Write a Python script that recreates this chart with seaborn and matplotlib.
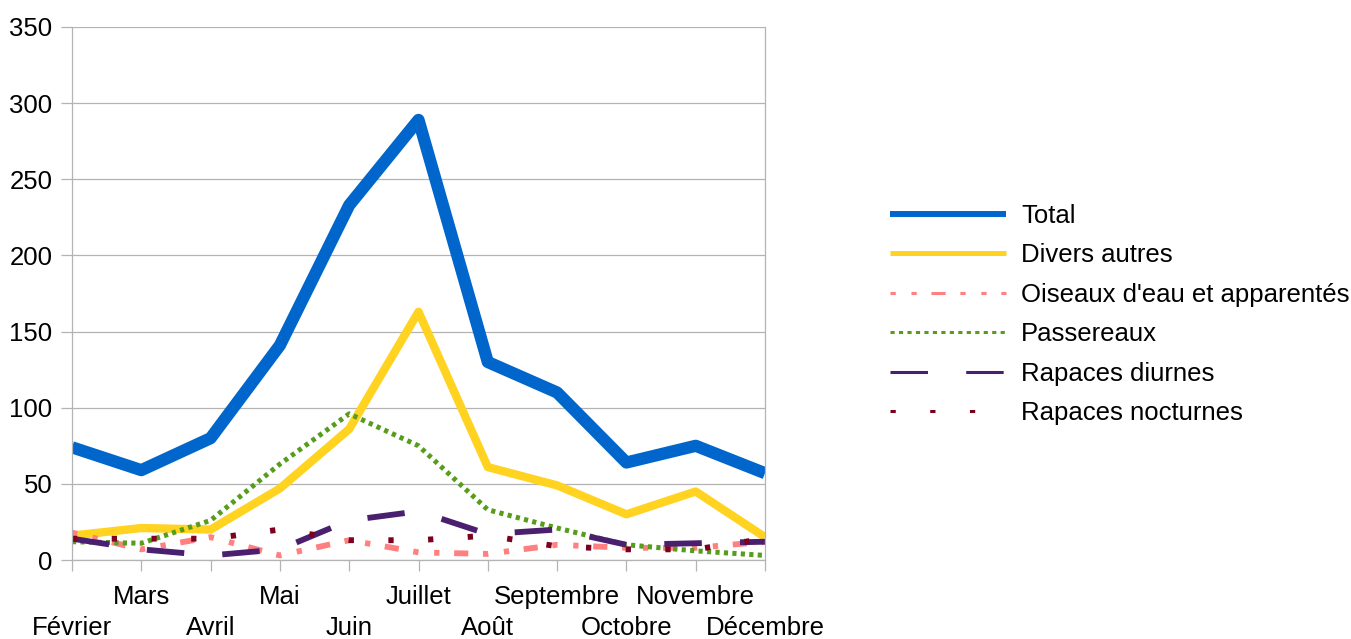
import pandas as pd
import matplotlib.pyplot as plt
import seaborn as sns

# Monthly counts
months = ["Février", "Mars", "Avril", "Mai", "Juin", "Juillet", "Août",
          "Septembre", "Octobre", "Novembre", "Décembre"]
total = [74, 59, 80, 141, 233, 289, 130, 110, 64, 75, 57]
divers_autres = [16, 21, 20, 47, 86, 163, 61, 49, 30, 45, 15]
oiseaux_eau = [18, 7, 15, 3, 13, 5, 4, 10, 8, 8, 12]
passereaux = [12, 11, 26, 63, 96, 75, 33, 21, 10, 6, 3]
rapaces_diurnes = [14, 7, 3, 7, 26, 32, 17, 20, 10, 11, 12]
rapaces_nocturnes = [14, 14, 14, 20, 13, 13, 16, 9, 7, 7, 14]
y_ticks = [0, 50, 100, 150, 200, 250, 300, 350]

sns.set_theme(style="whitegrid")
plt.rcParams['font.family'] = ['Liberation Sans', 'DejaVu Sans']
plt.rcParams['lines.scale_dashes'] = False
plt.rcParams['text.color'] = 'black'

grid_col = '#b3b3b3'
fs = 18.5

fig = plt.figure(figsize=(13.51, 6.39), dpi=100)
ax = fig.add_axes([72 / 1351, 1 - 560 / 639, 693 / 1351, 533 / 639])

# name, values, colour, plot width, legend width, line style
series = [
    ("Total", total, "#0066cc", 8.8, 4.3, "-"),
    ("Divers autres", divers_autres, "#ffd320", 6.0, 3.6, "-"),
    ("Oiseaux d'eau et apparentés", oiseaux_eau, "#ff8080", 4.2, 2.2,
     (0, (3.8, 11.3, 3.8, 10.6, 10.2, 10.6))),
    ("Passereaux", passereaux, "#579d1c", 3.6, 2.2, (0, (3.0, 3.1))),
    ("Rapaces diurnes", rapaces_diurnes, "#4b1f6f", 4.2, 2.2, (0, (27, 27.5))),
    ("Rapaces nocturnes", rapaces_nocturnes, "#7e0021", 4.2, 2.2, (0, (3.8, 24.8))),
]

x = list(range(len(months)))
for name, vals, color, lw, _, ls in series:
    df = pd.DataFrame({"x": x, "y": vals})
    sns.lineplot(data=df, x="x", y="y", ax=ax, color=color, linewidth=lw,
                 linestyle=ls, label=name, solid_joinstyle='round',
                 solid_capstyle='butt', dash_capstyle='butt', legend=False)

ax.set_xlim(0, len(months) - 1)
ax.set_ylim(0, 350)
ax.set_yticks(y_ticks)
ax.set_yticklabels([str(v) for v in y_ticks], fontsize=fs, color='black')
ax.set_xticks(x)
ax.set_xticklabels([("\n" + m) if i % 2 == 0 else m for i, m in enumerate(months)],
                   fontsize=fs, color='black', linespacing=1.38)
ax.set_xlabel("")
ax.set_ylabel("")

ax.grid(axis='y', color=grid_col, linewidth=0.9)
ax.grid(axis='x', visible=False)
ax.tick_params(axis='both', which='major', direction='out', length=8,
               width=0.9, color=grid_col, pad=6)
ax.tick_params(axis='x', bottom=True, pad=10)
ax.tick_params(axis='y', left=True)
for side in ['left', 'right', 'bottom']:
    ax.spines[side].set_visible(True)
    ax.spines[side].set_color(grid_col)
    ax.spines[side].set_linewidth(0.9)
ax.spines['top'].set_visible(False)

handles = ax.get_lines()[:len(series)]
leg = fig.legend(handles, [s[0] for s in series], loc='center left',
                 bbox_to_anchor=(890 / 1351, 1 - 314.5 / 639),
                 frameon=False, fontsize=fs, handlelength=4.5,
                 handletextpad=0.6, labelspacing=0.6, borderpad=0,
                 borderaxespad=0)
for line, s in zip(leg.get_lines(), series):
    line.set_linewidth(s[4])
for t in leg.get_texts():
    t.set_color('black')

fig.savefig("out.png", dpi=100)
